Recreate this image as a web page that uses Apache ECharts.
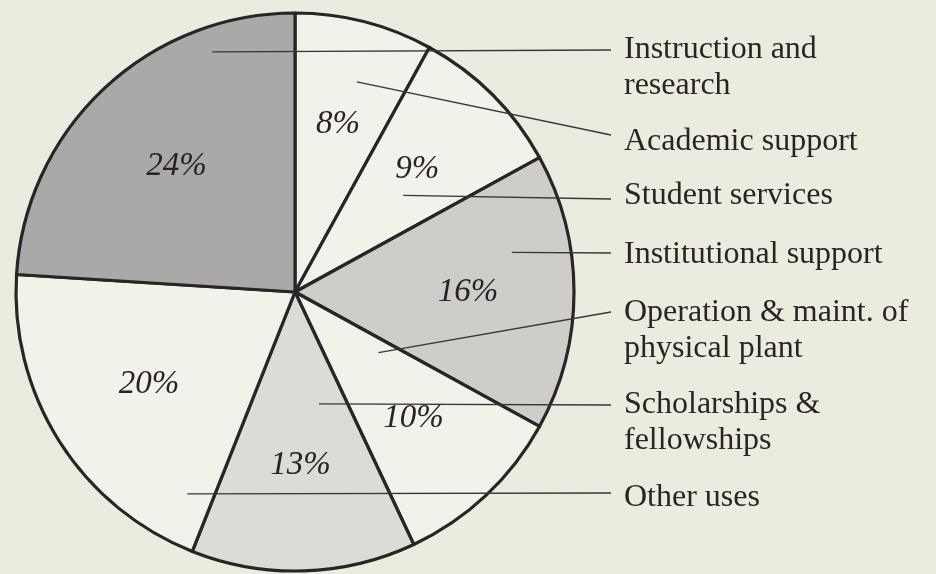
<!DOCTYPE html>
<html><head><meta charset="utf-8">
<script src="https://cdn.jsdelivr.net/npm/echarts@6/dist/echarts.min.js"></script>
<style>html,body{margin:0;padding:0;background:#ecebe0;} #c{width:936px;height:574px;}</style>
</head><body><div id="c"></div>
<script>
// ---- data ----
const categories = ['Academic support', 'Student services', 'Institutional support',
  'Operation & maint. of\nphysical plant', 'Scholarships &\nfellowships', 'Other uses',
  'Instruction and\nresearch'];
const shares = [8, 9, 16, 10, 13, 20, 24];

// ---- styling / annotation layout (not data) ----
const sliceColors = ['#f2f1ea', '#f2f1ea', '#cdcdca', '#f2f1ea', '#dcdbd5', '#f2f1ea', '#a9a9a7'];
const labelFirstLineY = [142, 196, 255, 313, 405, 498, 50];
const leaderEndY = [135, 199, 253, 312, 405, 493, 50];
// [fraction through the slice's sweep, fraction of the radius]
const leaderAnchor = [[0.57, 0.785], [0.6, 0.52], [0.32, 0.79], [0.2, 0.37], [0.28, 0.41], [0.09, 0.82], [0.78, 0.91]];
const LABEL_X = 624, LEADER_END_X = 611, LINE_H = 36;

const chart = echarts.init(document.getElementById('c'), null, {renderer: 'canvas'});
const serif = '"Liberation Serif", "DejaVu Serif", serif';

function layoutLabel(p) {
  const i = p.dataIndex;
  return {x: LABEL_X, y: labelFirstLineY[i] - LINE_H / 2, align: 'left', verticalAlign: 'top'};
}

chart.setOption({
  backgroundColor: '#ecebe0',
  animation: false,
  series: [
    {
      type: 'pie', center: [295, 292], radius: [0, 279], startAngle: 90, clockwise: true,
      avoidLabelOverlap: false, silent: true,
      data: categories.map((n, i) => ({name: n, value: shares[i], itemStyle: {color: sliceColors[i]}})),
      itemStyle: {borderColor: '#2a2525', borderWidth: 3.2},
      label: {show: true, position: 'outside', formatter: '{b}', fontFamily: serif, fontSize: 32,
        lineHeight: LINE_H, color: '#2a2424', width: 320, overflow: 'none'},
      labelLine: {show: false},
      labelLayout: layoutLabel,
      emphasis: {disabled: true}
    },
    {
      type: 'pie', center: [295, 292], radius: [0, 340], startAngle: 90, clockwise: true,
      silent: true, z: 5,
      data: shares.map((v, i) => ({name: categories[i], value: v})),
      itemStyle: {color: 'rgba(0,0,0,0)', borderWidth: 0},
      label: {show: true, position: 'inside', rotate: 0, formatter: '{c}%', fontFamily: serif,
        fontStyle: 'italic', fontSize: 33, color: '#2a2222'},
      labelLine: {show: false},
      emphasis: {disabled: true}
    }
  ]
});

// leader lines: anchored inside each slice using the pie's own computed layout
const pieData = chart.getModel().getSeriesByIndex(0).getData();
const leaders = categories.map((_, i) => {
  const lay = pieData.getItemLayout(i);
  const a = lay.startAngle + leaderAnchor[i][0] * (lay.endAngle - lay.startAngle);
  const r = leaderAnchor[i][1] * lay.r;
  return {
    type: 'line', silent: true, z: 3,
    shape: {x1: lay.cx + r * Math.cos(a), y1: lay.cy + r * Math.sin(a), x2: LEADER_END_X, y2: leaderEndY[i]},
    style: {stroke: '#3a3636', lineWidth: 1.3}
  };
});
chart.setOption({graphic: {elements: leaders}});
</script>
</body></html>
